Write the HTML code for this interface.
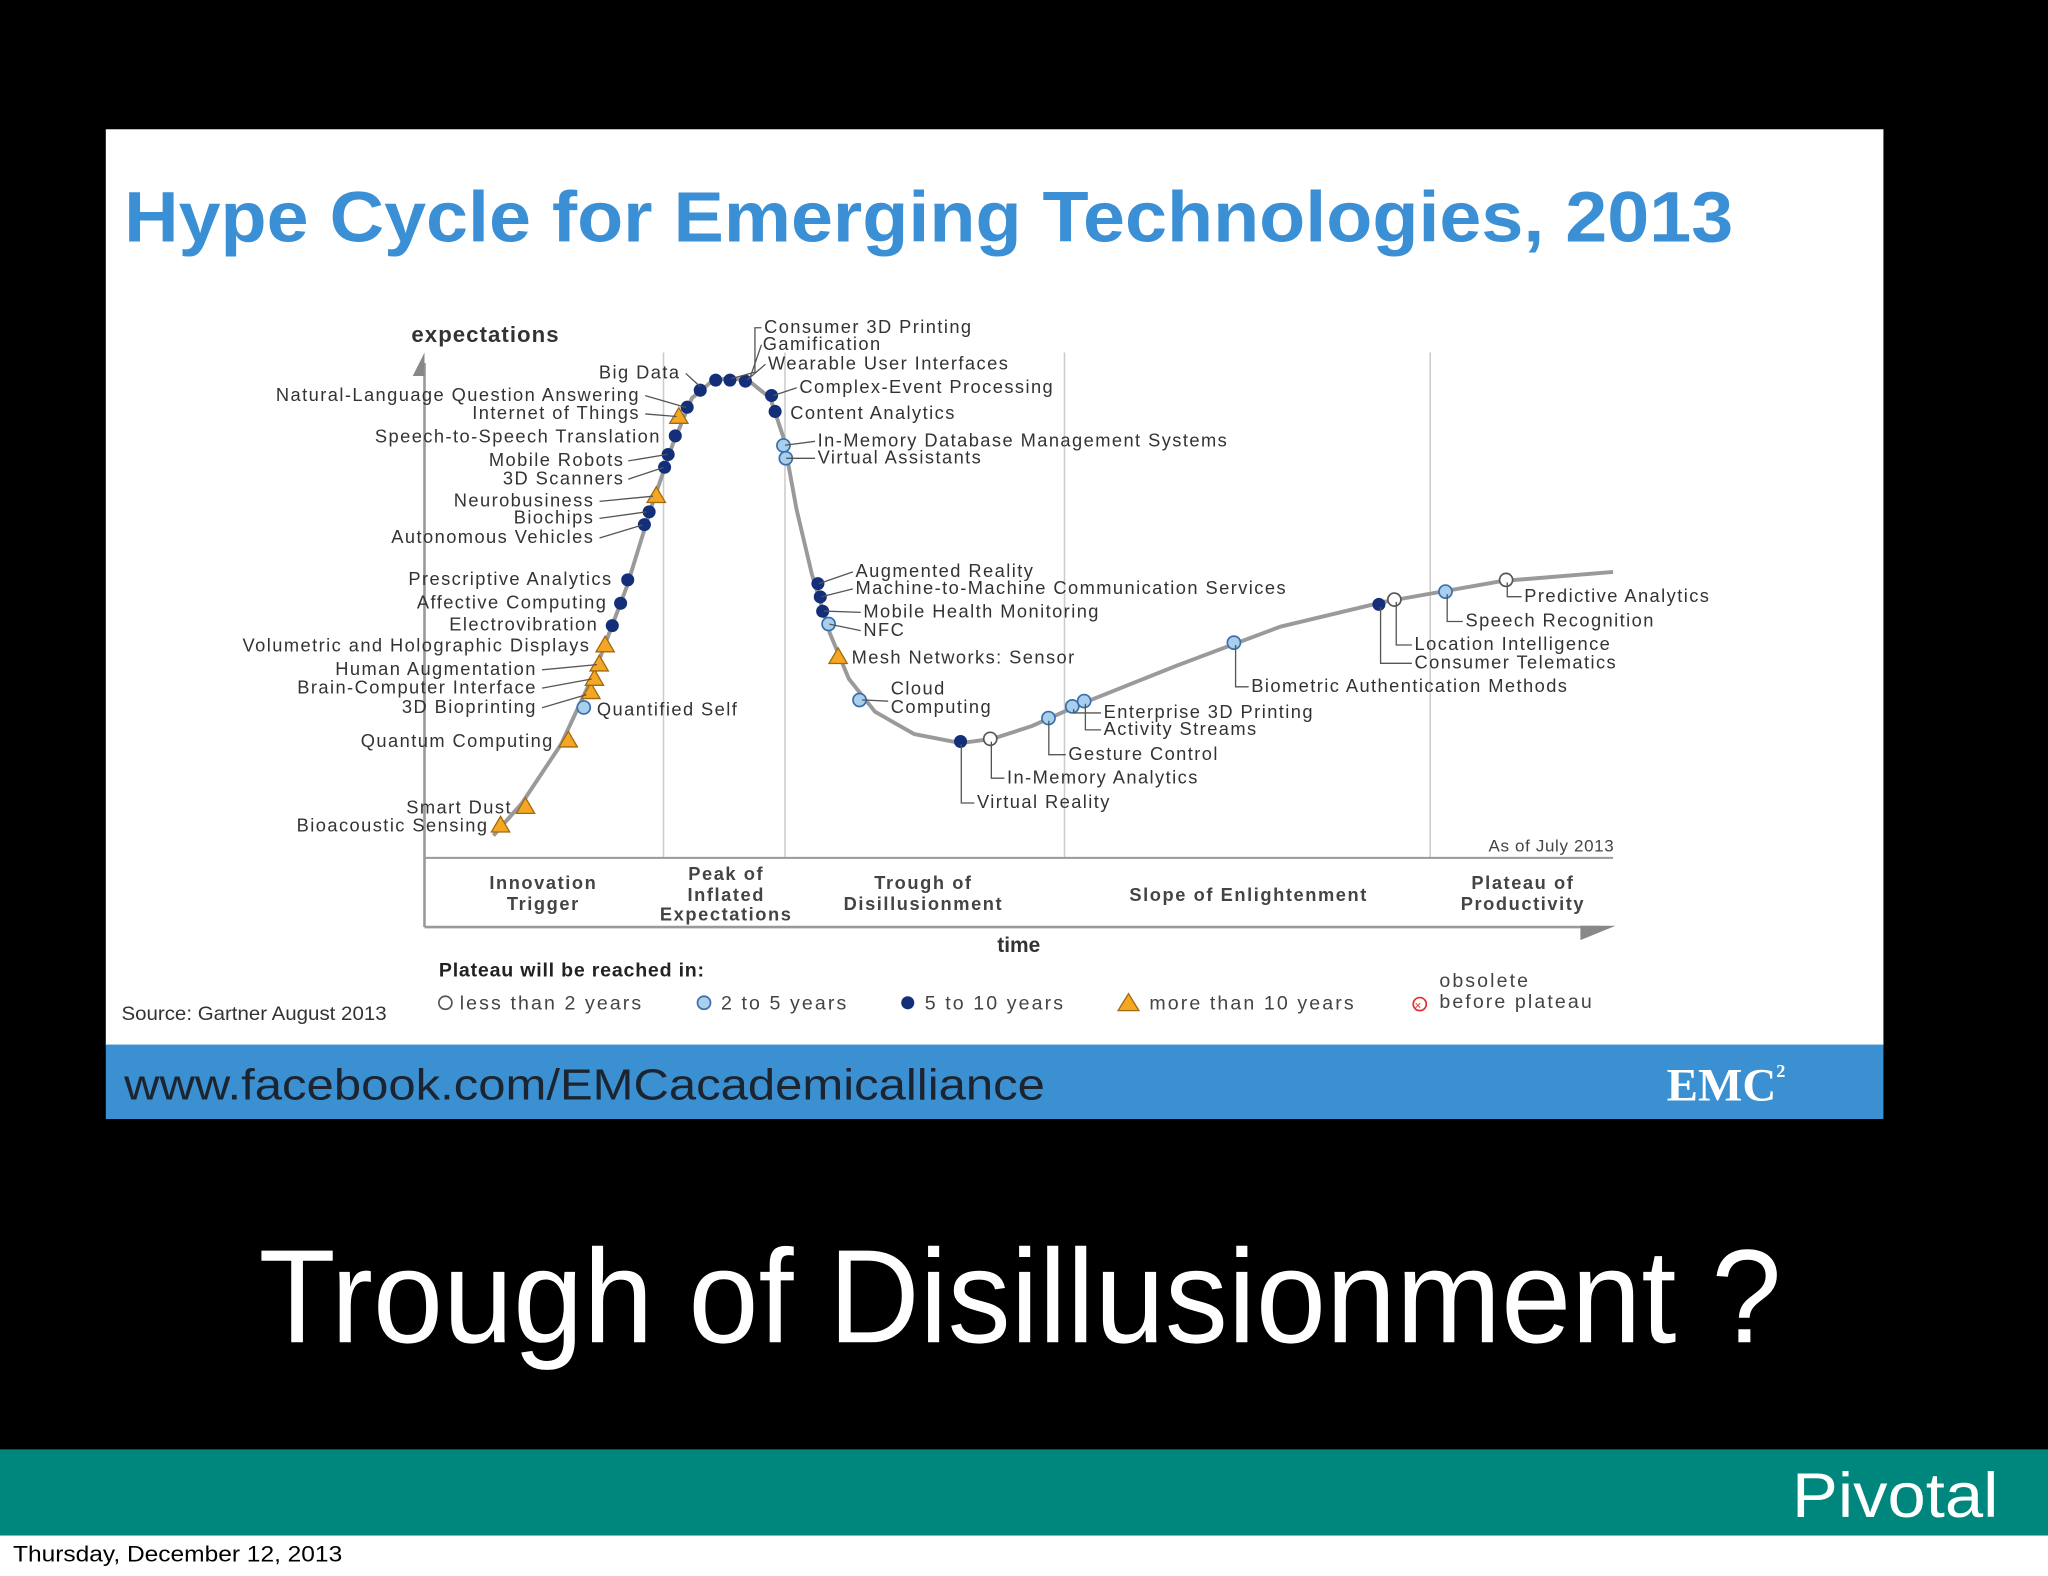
<!DOCTYPE html>
<html><head><meta charset="utf-8">
<style>
html,body{margin:0;padding:0;background:#000;}
svg{display:block;}
text{font-family:"Liberation Sans",sans-serif;}
</style></head>
<body>
<svg id="s" width="2048" height="1576" viewBox="0 0 1568 1207" preserveAspectRatio="none">
<rect x="0" y="0" width="1568" height="1207" fill="#000"/>
<rect x="81" y="99" width="1361" height="702" fill="#fff"/>
<rect x="81" y="800" width="1361" height="57" fill="#3b90d2"/>
<text x="95" y="185" font-size="55" font-weight="bold" fill="#3b8fd4" textLength="1232" lengthAdjust="spacingAndGlyphs">Hype Cycle for Emerging Technologies, 2013</text>
<text x="95" y="842" font-size="33" fill="#1c2430" textLength="705" lengthAdjust="spacingAndGlyphs">www.facebook.com/EMCacademicalliance</text>
<text x="1276" y="843" font-size="36" font-weight="bold" fill="#fff" style="font-family:'Liberation Serif',serif">EMC<tspan font-size="14" dy="-18">2</tspan></text>

<text x="198" y="1028" font-size="102" fill="#fff" textLength="1166" lengthAdjust="spacingAndGlyphs">Trough of Disillusionment ?</text>
<rect x="0" y="1110" width="1568" height="66" fill="#00877d"/>
<text x="1372" y="1162" font-size="48" fill="#fff" textLength="158" lengthAdjust="spacingAndGlyphs">Pivotal</text>
<rect x="0" y="1176" width="1568" height="31" fill="#fff"/>
<text x="10" y="1196" font-size="17" fill="#000" textLength="252" lengthAdjust="spacingAndGlyphs">Thursday, December 12, 2013</text>

<g id="chart">
<g stroke="#ccc" stroke-width="1.2">
<line x1="508" y1="270" x2="508" y2="657"/><line x1="601" y1="270" x2="601" y2="657"/>
<line x1="815" y1="270" x2="815" y2="657"/><line x1="1095" y1="270" x2="1095" y2="657"/>
</g>
<line x1="325" y1="657" x2="1235" y2="657" stroke="#999" stroke-width="1.5"/>
<line x1="325" y1="278" x2="325" y2="710" stroke="#999" stroke-width="2"/>
<polygon points="316,288 325,270 325,288" fill="#888"/>
<line x1="325" y1="710" x2="1225" y2="710" stroke="#999" stroke-width="2"/>
<polygon points="1210,720 1237,709 1210,709" fill="#888"/>
<text x="315" y="262" font-size="17" font-weight="bold" fill="#333" letter-spacing="0.8">expectations</text>
<text x="780" y="729" font-size="16" font-weight="bold" fill="#333" text-anchor="middle">time</text>
<text x="1236" y="652" font-size="13" fill="#444" text-anchor="end" letter-spacing="0.5">As of July 2013</text>
<g font-size="14" font-weight="bold" fill="#444" text-anchor="middle" letter-spacing="1.2">
<text x="416" y="681">Innovation</text><text x="416" y="697">Trigger</text>
<text x="556" y="674">Peak of</text><text x="556" y="690">Inflated</text><text x="556" y="705">Expectations</text>
<text x="707" y="681">Trough of</text><text x="707" y="697">Disillusionment</text>
<text x="956" y="690">Slope of Enlightenment</text>
<text x="1166" y="681">Plateau of</text><text x="1166" y="697">Productivity</text>
</g>
<g id="curve"></g>
<g id="marks"></g>
<g font-size="14" fill="#333" letter-spacing="1.1">
<g text-anchor="end">
<text x="521" y="290">Big Data</text>
<text x="490" y="307">Natural-Language Question Answering</text>
<text x="490" y="321">Internet of Things</text>
<text x="506" y="339">Speech-to-Speech Translation</text>
<text x="478" y="357">Mobile Robots</text>
<text x="478" y="371">3D Scanners</text>
<text x="455" y="388">Neurobusiness</text>
<text x="455" y="401">Biochips</text>
<text x="455" y="416">Autonomous Vehicles</text>
<text x="469" y="448">Prescriptive Analytics</text>
<text x="465" y="466">Affective Computing</text>
<text x="458" y="483">Electrovibration</text>
<text x="452" y="499">Volumetric and Holographic Displays</text>
<text x="411" y="517">Human Augmentation</text>
<text x="411" y="531">Brain-Computer Interface</text>
<text x="411" y="546">3D Bioprinting</text>
<text x="424" y="572">Quantum Computing</text>
<text x="392" y="623">Smart Dust</text>
<text x="374" y="637">Bioacoustic Sensing</text>
</g>
<text x="457" y="548">Quantified Self</text>
<text x="585" y="255">Consumer 3D Printing</text>
<text x="584" y="268">Gamification</text>
<text x="588" y="283">Wearable User Interfaces</text>
<text x="612" y="301">Complex-Event Processing</text>
<text x="605" y="321">Content Analytics</text>
<text x="626" y="342">In-Memory Database Management Systems</text>
<text x="626" y="355">Virtual Assistants</text>
<text x="655" y="442">Augmented Reality</text>
<text x="655" y="455">Machine-to-Machine Communication Services</text>
<text x="661" y="473">Mobile Health Monitoring</text>
<text x="661" y="487">NFC</text>
<text x="652" y="508">Mesh Networks: Sensor</text>
<text x="682" y="532">Cloud</text><text x="682" y="546">Computing</text>
<text x="748" y="619">Virtual Reality</text>
<text x="771" y="600">In-Memory Analytics</text>
<text x="818" y="582">Gesture Control</text>
<text x="845" y="550">Enterprise 3D Printing</text>
<text x="845" y="563">Activity Streams</text>
<text x="958" y="530">Biometric Authentication Methods</text>
<text x="1083" y="498">Location Intelligence</text>
<text x="1083" y="512">Consumer Telematics</text>
<text x="1122" y="480">Speech Recognition</text>
<text x="1167" y="461">Predictive Analytics</text>
</g>
<g stroke="#555" stroke-width="1" fill="none">
<polyline points="583,251 578,251 578,285 560,290"/>
<polyline points="583,264 574,290"/>
<polyline points="586,279 572,291"/>
<line x1="610" y1="297" x2="592" y2="303"/>
<line x1="624" y1="338" x2="601" y2="341"/>
<line x1="624" y1="351" x2="602" y2="351"/>
<line x1="653" y1="438" x2="627" y2="447"/>
<line x1="653" y1="451" x2="629" y2="457"/>
<line x1="659" y1="469" x2="631" y2="468"/>
<line x1="659" y1="483" x2="635" y2="478"/>
<line x1="680" y1="537" x2="660" y2="536"/>
<polyline points="746,615 736,615 736,570"/>
<polyline points="769,596 759,596 759,568"/>
<polyline points="816,578 803,578 803,552"/>
<polyline points="843,546 822,546 822,543"/>
<polyline points="843,559 831,559 831,539"/>
<polyline points="956,526 946,526 946,494"/>
<polyline points="1081,494 1069,494 1069,461"/>
<polyline points="1081,508 1057,508 1057,465"/>
<polyline points="1120,476 1108,476 1108,455"/>
<polyline points="1165,457 1154,457 1154,446"/>
<line x1="525" y1="286" x2="536" y2="296"/>
<line x1="494" y1="303" x2="525" y2="312"/>
<line x1="494" y1="317" x2="518" y2="319"/>
<line x1="481" y1="353" x2="511" y2="348"/>
<line x1="481" y1="367" x2="508" y2="358"/>
<line x1="459" y1="384" x2="500" y2="380"/>
<line x1="459" y1="397" x2="495" y2="392"/>
<line x1="459" y1="412" x2="492" y2="402"/>
<line x1="415" y1="513" x2="457" y2="509"/>
<line x1="415" y1="527" x2="453" y2="520"/>
<line x1="415" y1="542" x2="449" y2="532"/>
</g>
<text x="336" y="748" font-size="15" font-weight="bold" fill="#222" letter-spacing="0.6">Plateau will be reached in:</text>
<g font-size="15" fill="#444" letter-spacing="1.6">
<g><circle cx="341" cy="768" r="5" fill="#fff" stroke="#555" stroke-width="1.3"/><text x="352" y="773">less than 2 years</text></g>
<g><circle cx="539" cy="768" r="5" fill="#a8d0ee" stroke="#3a6fa8" stroke-width="1.3"/><text x="552" y="773">2 to 5 years</text></g>
<g><circle cx="695" cy="768" r="5" fill="#142f7a"/><text x="708" y="773">5 to 10 years</text></g>
<g><polygon points="856,774 864,761 872,774" fill="#f5a623" stroke="#a06a10" stroke-width="1"/><text x="880" y="773">more than 10 years</text></g>
<g><circle cx="1087" cy="769" r="5" fill="#fff" stroke="#e03030" stroke-width="1.3"/><text x="1083" y="773" font-size="9" fill="#e03030" letter-spacing="0">×</text><text x="1102" y="756">obsolete</text><text x="1102" y="772">before plateau</text></g>
</g>
<text x="93" y="781" font-size="15" fill="#333" textLength="203" lengthAdjust="spacingAndGlyphs">Source: Gartner August 2013</text>
</g>
</svg>
<script>
const curveTime=[5.8,8.2,11.5,14.3,17.0,19.2,20.9,22.5,24.2,25.8,27.5,29.1,30.2,31.3,32.6,34.1,35.7,37.9,41.2,45.1,47.8,51.1,55.5,63.2,72.0,80.8,90.7,100];
const curveExp=[4.2,10.3,21.4,34.9,50.9,66.8,77.9,86.5,89.7,90.4,89.4,86.5,79.1,65.6,53.3,42.3,33.7,27.5,23.3,21.6,22.4,24.8,29.2,36.1,43.5,48.2,52.1,53.8];
const techNames=["Bioacoustic Sensing","Smart Dust","Quantum Computing","Quantified Self","3D Bioprinting","Brain-Computer Interface","Human Augmentation","Volumetric and Holographic Displays","Electrovibration","Affective Computing","Prescriptive Analytics","Autonomous Vehicles","Biochips","Neurobusiness","3D Scanners","Mobile Robots","Speech-to-Speech Translation","Internet of Things","Natural-Language Question Answering","Big Data","Consumer 3D Printing","Gamification","Wearable User Interfaces","Complex-Event Processing","Content Analytics","In-Memory Database Management Systems","Virtual Assistants","Augmented Reality","Machine-to-Machine Communication Services","Mobile Health Monitoring","NFC","Mesh Networks: Sensor","Cloud Computing","Virtual Reality","In-Memory Analytics","Gesture Control","Enterprise 3D Printing","Activity Streams","Biometric Authentication Methods","Consumer Telematics","Location Intelligence","Speech Recognition","Predictive Analytics"];
const techTime=[6.4,8.5,12.1,13.4,14.0,14.3,14.7,15.2,15.8,16.5,17.1,18.5,18.9,19.5,20.2,20.5,21.1,21.4,22.1,23.2,24.5,25.7,27.0,29.2,29.5,30.2,30.4,33.1,33.3,33.5,34.0,34.8,36.6,45.1,47.6,52.5,54.5,55.5,68.1,80.3,81.6,85.9,91.0];
const techExp=[6.1,9.6,22.1,28.3,31.2,33.7,36.4,40.0,43.7,47.9,52.3,62.7,65.1,68.1,73.5,75.9,79.4,83.0,84.8,88.0,89.9,89.9,89.7,87.0,84.0,77.6,75.2,51.6,49.1,46.4,44.0,37.8,29.7,21.9,22.4,26.3,28.5,29.5,40.5,47.7,48.6,50.1,52.3];
const techCat=["t","t","t","l","t","t","t","t","n","n","n","n","n","t","n","n","n","t","n","n","n","n","n","n","n","l","l","n","n","n","l","t","l","n","w","l","l","l","l","n","w","l","w"];
const NS="http://www.w3.org/2000/svg";
function xScale(t){return 325+t*9.1;}
function yScale(e){return 657-e*4.07;}
const cg=document.getElementById('curve');
const pl=document.createElementNS(NS,'polyline');


pl.setAttribute('points',curveTime.map((t,i)=>xScale(t)+','+yScale(curveExp[i])).join(' '));
pl.setAttribute('fill','none');pl.setAttribute('stroke','#9a9a9a');pl.setAttribute('stroke-width','3');pl.setAttribute('stroke-linejoin','round');
cg.appendChild(pl);
const mg=document.getElementById('marks');
techNames.forEach((n,i)=>{
  const x=xScale(techTime[i]),y=yScale(techExp[i]);let el;
  if(techCat[i]==='t'){el=document.createElementNS(NS,'polygon');
    el.setAttribute('points',(x-7)+','+(y+5)+' '+x+','+(y-7)+' '+(x+7)+','+(y+5));
    el.setAttribute('fill','#f5a623');el.setAttribute('stroke','#a06a10');el.setAttribute('stroke-width','1');}
  else{el=document.createElementNS(NS,'circle');el.setAttribute('cx',x);el.setAttribute('cy',y);el.setAttribute('r',5);
    if(techCat[i]==='n'){el.setAttribute('fill','#142f7a');}
    else if(techCat[i]==='l'){el.setAttribute('fill','#a8d0ee');el.setAttribute('stroke','#3a6fa8');el.setAttribute('stroke-width','1.3');}
    else{el.setAttribute('fill','#fff');el.setAttribute('stroke','#555');el.setAttribute('stroke-width','1.3');}}
  
  
  mg.appendChild(el);
});
</script>
</body></html>
